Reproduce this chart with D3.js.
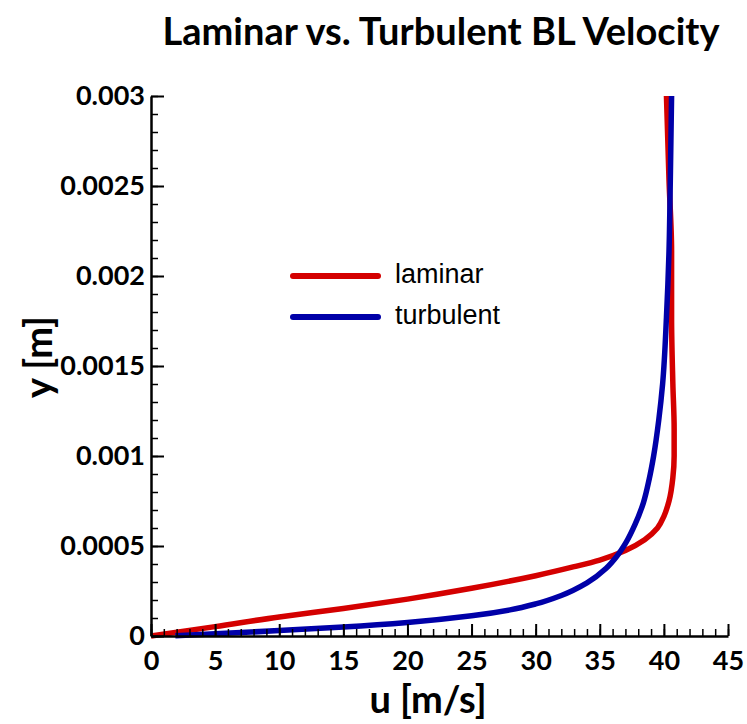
<!DOCTYPE html>
<html>
<head>
<meta charset="utf-8">
<script src="https://cdn.jsdelivr.net/npm/d3@7"></script>
<style>
  body { margin: 0; background: #fff; }
  svg { display: block; }
</style>
</head>
<body>
<script>
const width = 747
const height = 724
const margin = {left: 151, right: 19, top: 96, bottom: 88}

const laminarU = [0, 5, 10, 15, 20, 25, 30, 33, 35, 37, 38.5, 39.5, 40.0, 40.4, 40.7, 40.8, 40.8, 40.7, 40.6, 40.6, 40.4, 40.2]
const laminarY = [0, 0.000052, 0.000106, 0.000153, 0.000205, 0.000265, 0.000335, 0.000385, 0.000422, 0.000475, 0.000535, 0.000600, 0.000665, 0.000750, 0.00088, 0.00100, 0.00115, 0.00140, 0.00177, 0.00214, 0.00253, 0.00300]

const turbulentU = [1.9, 5, 10, 15, 20, 25, 28, 30, 32, 34, 35.5, 36.3, 37.05, 37.75, 38.4, 38.85, 39.2, 39.6, 39.9, 40.2, 40.4, 40.5, 40.6]
const turbulentY = [0.000002, 0.000012, 0.000030, 0.000050, 0.000075, 0.000112, 0.000145, 0.000178, 0.000225, 0.000295, 0.000376, 0.00044, 0.00052, 0.00062, 0.00074, 0.00087, 0.00100, 0.00120, 0.00140, 0.00177, 0.00214, 0.00253, 0.00300]

const seriesNames = ['laminar', 'turbulent']
const seriesColors = ['#d40000', '#0000a8']

const xTickValues = [0, 5, 10, 15, 20, 25, 30, 35, 40, 45]
const xTickLabels = ['0', '5', '10', '15', '20', '25', '30', '35', '40', '45']
const yTickValues = [0, 0.0005, 0.001, 0.0015, 0.002, 0.0025, 0.003]
const yTickLabels = ['0', '0.0005', '0.001', '0.0015', '0.002', '0.0025', '0.003']

const titleText = 'Laminar vs. Turbulent BL Velocity'
const xLabelText = 'u [m/s]'
const yLabelText = 'y [m]'

const boldFont = 'Lato, "Open Sans", sans-serif'
const legendFont = '"Liberation Sans", Arial, sans-serif'

const x = d3.scaleLinear().domain([0, 45]).range([margin.left, width - margin.right])
const y = d3.scaleLinear().domain([0, 0.003]).range([height - margin.bottom, margin.top])

function makeSeries(us, ys) {
    return us.map((u, i) => ({u, y: ys[i]}))
}

const series = [makeSeries(laminarU, laminarY), makeSeries(turbulentU, turbulentY)]

const svg = d3.select('body')
    .append('svg')
    .attr('width', width)
    .attr('height', height)

// title
svg.append('text')
    .attr('x', 441)
    .attr('y', 45)
    .attr('text-anchor', 'middle')
    .style('font-family', boldFont)
    .style('font-weight', 700)
    .style('font-size', '38px')
    .text(titleText)

// curves
const line = d3.line()
    .x(d => x(d.u))
    .y(d => y(d.y))
    .curve(d3.curveMonotoneY)

series.forEach((s, i) => {
    svg.append('path')
        .datum(s)
        .attr('d', line)
        .attr('fill', 'none')
        .attr('stroke', seriesColors[i])
        .attr('stroke-width', 5.5)
        .attr('stroke-linejoin', 'round')
})

// minor ticks
const xMinor = d3.axisBottom(x)
    .tickValues(d3.range(0, 46, 1))
    .tickSize(-7)
    .tickSizeOuter(0)
    .tickFormat('')
const yMinor = d3.axisLeft(y)
    .tickValues(d3.range(0, 31, 1).map(k => k * 0.0001))
    .tickSize(-7)
    .tickSizeOuter(0)
    .tickFormat('')

svg.append('g')
    .attr('transform', `translate(0,${y(0)})`)
    .call(xMinor)
    .call(g => g.select('.domain').remove())
    .call(g => g.selectAll('line').attr('stroke', '#000').attr('stroke-width', 1.5))
svg.append('g')
    .attr('transform', `translate(${x(0)},0)`)
    .call(yMinor)
    .call(g => g.select('.domain').remove())
    .call(g => g.selectAll('line').attr('stroke', '#000').attr('stroke-width', 1.5))

// major axes
const xAxis = d3.axisBottom(x)
    .tickValues(xTickValues)
    .tickSize(-12)
    .tickSizeOuter(0)
    .tickPadding(15)
    .tickFormat((d, i) => xTickLabels[i])
const yAxis = d3.axisLeft(y)
    .tickValues(yTickValues)
    .tickSize(-13)
    .tickSizeOuter(0)
    .tickPadding(6)
    .tickFormat((d, i) => yTickLabels[i])

svg.append('g')
    .attr('transform', `translate(0,${y(0)})`)
    .call(xAxis)
    .call(g => g.select('.domain').attr('stroke', '#000').attr('stroke-width', 2.5))
    .call(g => g.selectAll('.tick line').attr('stroke', '#000').attr('stroke-width', 2))
    .call(g => g.selectAll('.tick text')
        .attr('fill', '#000')
        .style('font-family', boldFont)
        .style('font-weight', 700)
        .style('font-size', '27px'))
svg.append('g')
    .attr('transform', `translate(${x(0)},0)`)
    .call(yAxis)
    .call(g => g.select('.domain').attr('stroke', '#000').attr('stroke-width', 2.5))
    .call(g => g.selectAll('.tick line').attr('stroke', '#000').attr('stroke-width', 2))
    .call(g => g.selectAll('.tick text')
        .attr('fill', '#000')
        .style('font-family', boldFont)
        .style('font-weight', 700)
        .style('font-size', '27px'))

// axis labels
svg.append('text')
    .attr('x', 428)
    .attr('y', 713)
    .attr('text-anchor', 'middle')
    .style('font-family', boldFont)
    .style('font-weight', 700)
    .style('font-size', '38px')
    .text(xLabelText)
svg.append('text')
    .attr('transform', 'translate(52,357) rotate(-90)')
    .attr('text-anchor', 'middle')
    .style('font-family', boldFont)
    .style('font-weight', 700)
    .style('font-size', '38px')
    .text(yLabelText)

// legend
const legend = svg.append('g').attr('transform', 'translate(293,276)')
seriesNames.forEach((name, i) => {
    const row = legend.append('g').attr('transform', `translate(0,${i * 41})`)
    row.append('line')
        .attr('x1', 0)
        .attr('x2', 85)
        .attr('stroke', seriesColors[i])
        .attr('stroke-width', 6)
        .attr('stroke-linecap', 'round')
    row.append('text')
        .attr('x', 102)
        .attr('y', 7)
        .style('font-family', legendFont)
        .style('font-size', '27px')
        .text(name)
})
</script>
</body>
</html>
